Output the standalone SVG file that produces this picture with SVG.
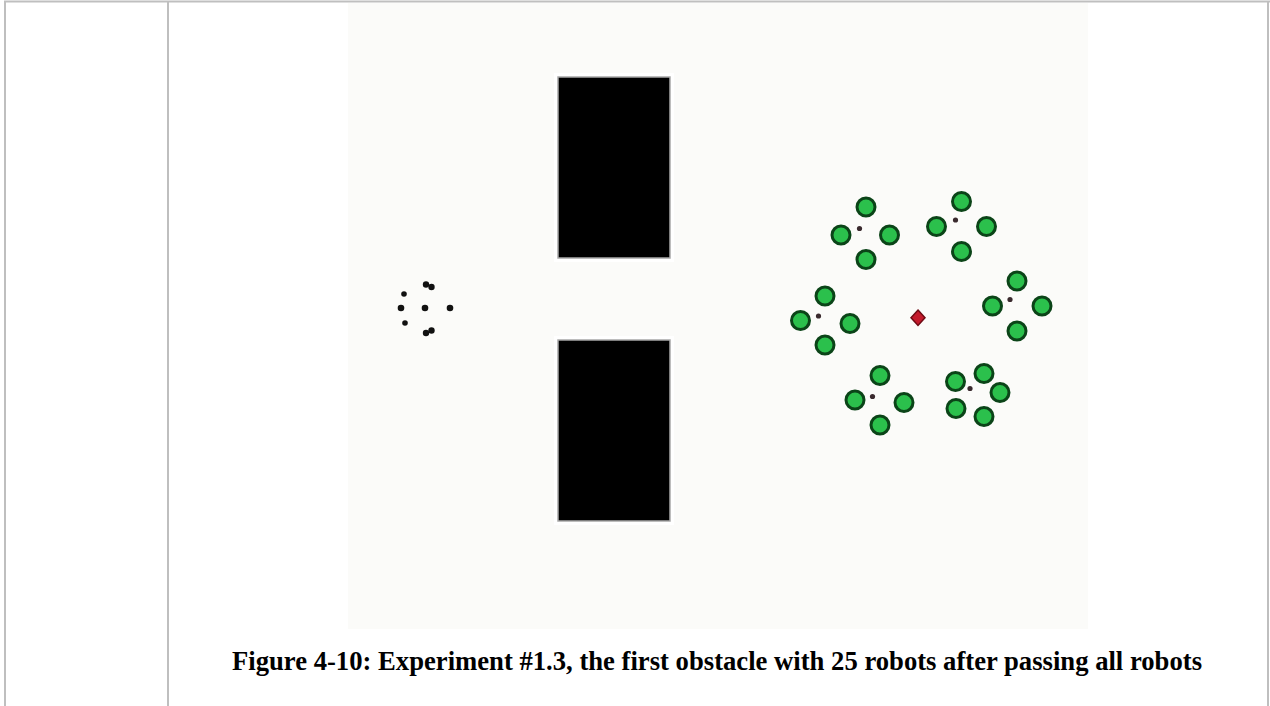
<svg xmlns="http://www.w3.org/2000/svg" width="1270" height="706" viewBox="0 0 1270 706">
<style>
.frame{stroke:#bfbfbf;stroke-width:2;fill:none}
.obst{fill:#000;stroke:#a8a8a8;stroke-width:1.5}
.g{fill:#2bc04c;stroke:#0b4418;stroke-width:3}
.dot{fill:#3a2a2e}
.bk{fill:#111}
.cap{font-family:"Liberation Serif","Times New Roman",serif;font-weight:bold;font-size:26.6px;fill:#000}
</style>
<defs>
<circle id="rb" r="9" class="g"/>
</defs>
<rect x="0" y="0" width="1270" height="706" fill="#fff"/>
<g id="frame">
<line class="frame" x1="4" y1="1.5" x2="1270" y2="1.5"/>
<line class="frame" x1="5" y1="1" x2="5" y2="706"/>
<line class="frame" x1="168" y1="1" x2="168" y2="706"/>
<line class="frame" x1="1268" y1="1" x2="1268" y2="706"/>
</g>
<g id="scene">
<rect x="348" y="3" width="740" height="626" fill="#fbfbf9"/>
<rect x="554" y="73" width="120" height="189" fill="#fff"/>
<rect x="554" y="336" width="120" height="189" fill="#fff"/>
<rect class="obst" x="558" y="77" width="112" height="181"/>
<rect class="obst" x="558" y="340" width="112" height="181"/>
</g>
<g id="left-robots">
<circle class="bk" cx="426" cy="284.5" r="3.2"/><circle class="bk" cx="431.5" cy="287" r="3.2"/>
<circle class="bk" cx="404" cy="294" r="2.8"/>
<circle class="bk" cx="401" cy="308" r="3.3"/>
<circle class="bk" cx="425" cy="308" r="3.3"/>
<circle class="bk" cx="450" cy="308" r="3.3"/>
<circle class="bk" cx="405" cy="323" r="2.8"/>
<circle class="bk" cx="426" cy="333" r="3.2"/><circle class="bk" cx="431.5" cy="330.5" r="3.2"/>
</g>
<g id="cluster1">
<use href="#rb" x="866" y="207"/><use href="#rb" x="841" y="235"/><use href="#rb" x="889.5" y="235"/><use href="#rb" x="866" y="259.5"/>
<circle class="dot" cx="859.5" cy="228.5" r="2.6"/>
</g>
<g id="cluster2">
<use href="#rb" x="961.5" y="201.5"/><use href="#rb" x="936.5" y="226.5"/><use href="#rb" x="986.5" y="226.5"/><use href="#rb" x="961.5" y="251.5"/>
<circle class="dot" cx="955.5" cy="220" r="2.6"/>
</g>
<g id="cluster3">
<use href="#rb" x="1017" y="281"/><use href="#rb" x="992.5" y="306"/><use href="#rb" x="1042" y="306"/><use href="#rb" x="1017" y="331"/>
<circle class="dot" cx="1010" cy="299.5" r="2.6"/>
</g>
<g id="cluster4">
<use href="#rb" x="825" y="296"/><use href="#rb" x="800.5" y="320.5"/><use href="#rb" x="850" y="323.5"/><use href="#rb" x="825" y="345"/>
<circle class="dot" cx="818.5" cy="316" r="2.6"/>
</g>
<g id="cluster5">
<use href="#rb" x="880" y="375.5"/><use href="#rb" x="855" y="400"/><use href="#rb" x="904" y="402.5"/><use href="#rb" x="880" y="425"/>
<circle class="dot" cx="872.5" cy="396.5" r="2.6"/>
</g>
<g id="cluster6">
<use href="#rb" x="955.5" y="381.5"/><use href="#rb" x="984" y="373.5"/><use href="#rb" x="1000" y="392.5"/><use href="#rb" x="956" y="408.5"/><use href="#rb" x="984" y="416.5"/>
<circle class="dot" cx="970" cy="388.5" r="2.6"/>
</g>
<g id="target">
<path d="M918 310 L925 317.7 L918 325.5 L911 317.7 Z" fill="#c41a2c" stroke="#6e0a14" stroke-width="1.5"/>
</g>
<g id="caption">
<text class="cap" x="232" y="669.5" textLength="970" lengthAdjust="spacingAndGlyphs">Figure 4-10: Experiment #1.3, the first obstacle with 25 robots after passing all robots</text>
</g>
</svg>
